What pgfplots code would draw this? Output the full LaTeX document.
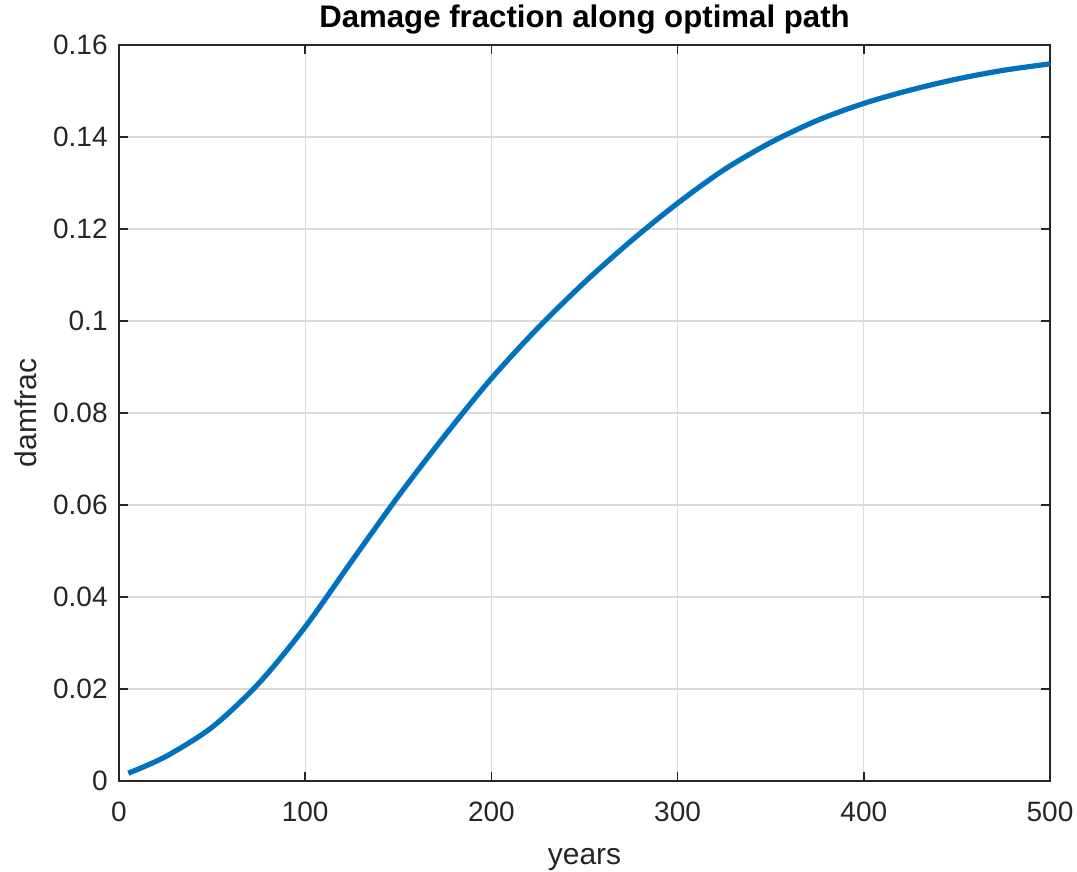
\documentclass[border=0pt]{standalone}
\usepackage{fontspec}
\setmainfont{Liberation Sans}
\usepackage{pgfplots}
\pgfplotsset{compat=1.18}
\usetikzlibrary{calc}
\definecolor{mblue}{RGB}{0,114,189}
\definecolor{mgray}{RGB}{38,38,38}
\definecolor{mgrid}{RGB}{218,218,218}
\begin{document}
\begin{tikzpicture}
\begin{axis}[
  scale only axis,
  width=465.5pt, height=368pt,
  xmin=0, xmax=500, ymin=0, ymax=0.16,
  xtick={0,100,200,300,400,500},
  ytick={0,0.02,0.04,0.06,0.08,0.1,0.12,0.14,0.16},
  yticklabels={0,0.02,0.04,0.06,0.08,0.1,0.12,0.14,0.16},
  scaled y ticks=false,
  /pgf/number format/assume math mode=true,
  tick align=inside,
  major tick length=4.5pt,
  axis line style={mgray, line width=0.75pt},
  every tick/.style={mgray, line width=0.75pt},
  grid=major,
  major grid style={mgrid, line width=0.6pt},
  tick label style={font=\fontsize{14}{16}\selectfont, text=mgray},
  yticklabel style={inner sep=0pt, anchor=east, xshift=-5.5pt},
  xticklabel style={inner sep=0pt, anchor=north, yshift=-10.5pt},
  xlabel={years}, ylabel={damfrac},
  label style={font=\fontsize{15}{17}\selectfont, text=mgray},
  xlabel style={at={(axis description cs:0.5,-0.1141)}, anchor=base},
  ylabel style={at={(axis description cs:-0.0881,0.5)}, anchor=base},
  title={Damage fraction along optimal path},
  title style={font=\fontsize{15.6}{18}\selectfont\bfseries, at={(axis description cs:0.5,1)}, anchor=base, yshift=2.5pt},
]
\addplot[mblue, line width=2.6pt, smooth] coordinates {
(5,0.0017) (25,0.0053) (50,0.0117) (75,0.0212) (100,0.0335)
(125,0.0478) (150,0.0619) (175,0.0751) (200,0.0875) (225,0.0985)
(250,0.1084) (275,0.1174) (300,0.1256) (325,0.1329) (350,0.1388)
(375,0.1436) (400,0.1473) (425,0.1502) (450,0.1526) (475,0.1545)
(500,0.1559)
};
\end{axis}
\pgfresetboundingbox
\path[use as bounding box] ($(current axis.south west)+(-59.5pt,-45.5pt)$) rectangle ($(current axis.north east)+(13.5pt,22.5pt)$);
\end{tikzpicture}
\end{document}
